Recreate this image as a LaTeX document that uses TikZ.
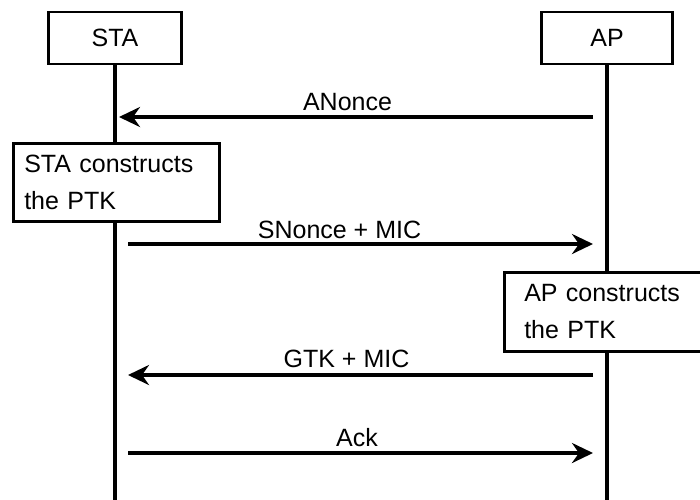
\documentclass[tikz,border=0pt]{standalone}
\usepackage{fontspec}
\setmainfont{Liberation Sans}
\usetikzlibrary{arrows.meta}

\tikzset{
  actor/.style={draw, line width=2.5pt, minimum width=133pt, minimum height=52pt, inner sep=0pt},
  lifeline/.style={line width=4pt},
  msg/.style={line width=4pt, -{Stealth[length=21pt,width=20pt,inset=7pt]}},
  note/.style={draw, fill=white, line width=2.5pt, anchor=north west, minimum width=206pt, minimum height=78pt, align=left},
  msglabel/.style={anchor=base, inner sep=0pt}
}

\begin{document}
\begin{tikzpicture}[x=1pt,y=-1pt,font=\fontsize{25}{37}\selectfont]
				\useasboundingbox (0,0) rectangle (700,499);
				
				% the two parties
				\node[actor] (sta) at (115,38) {STA};
				\node[actor, minimum width=131pt] (ap) at (607,38) {AP};
				\coordinate (staend) at (115,503);
				\coordinate (apend) at (607,503);
				\draw[lifeline] (sta) -- (staend);
				\draw[lifeline] (ap) -- (apend);
				
				% ANonce
				\coordinate (staA) at (119,117);
				\coordinate (apA) at (593,117);
				\draw[msg] (apA) -- (staA);
				\node[msglabel] (lblA) at (347.5,110) {ANonce};
				
				\node[note, inner xsep=11pt, text width=184pt] (staptk) at (12,142) {STA constructs\\the PTK};
				
				% SNonce
				\coordinate (staS) at (128,244);
				\coordinate (apS) at (593,244);
				\draw[msg] (staS) -- (apS);
				\node[msglabel] (lblS) at (339.5,238) {SNonce + MIC};
				
				\node[note, minimum height=79pt, inner xsep=20pt, text width=166pt] (apptk) at (503,271) {AP constructs\\the PTK};
				
				% GTK
				\coordinate (staG) at (128,375);
				\coordinate (apG) at (593,375);
				\draw[msg] (apG) -- (staG);
				\node[msglabel] (lblG) at (346.5,367) {GTK + MIC};
				
				% Ack
				\coordinate (staK) at (128,453);
				\coordinate (apK) at (593,453);
				\draw[msg] (staK) -- (apK);
				\node[msglabel] (lblK) at (357,446) {Ack};
			\end{tikzpicture}
\end{document}
